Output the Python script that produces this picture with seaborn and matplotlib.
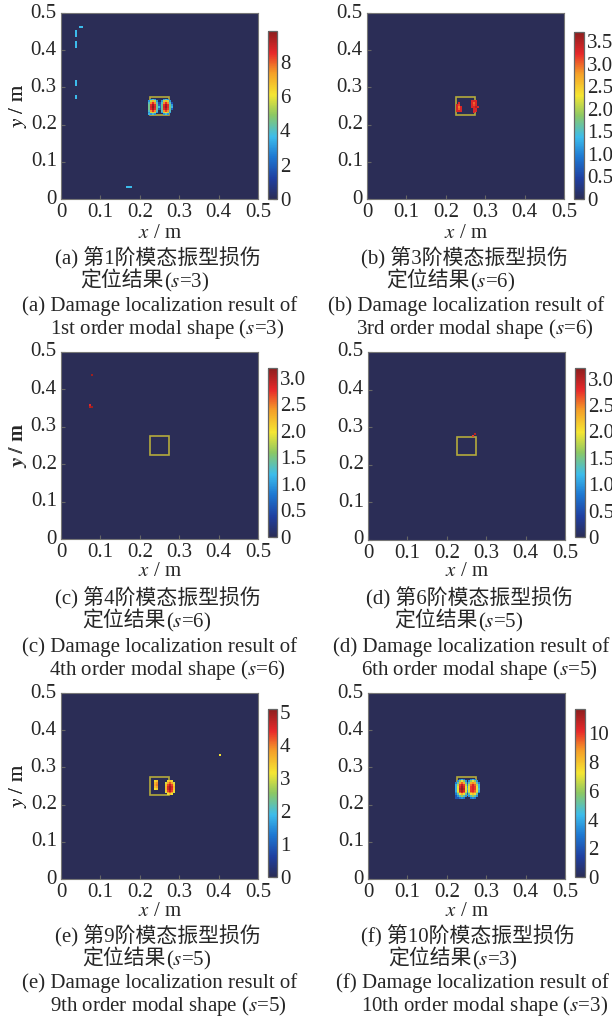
import numpy as np
import matplotlib
matplotlib.use("Agg")
import matplotlib.pyplot as plt
import seaborn as sns
from matplotlib.colors import LinearSegmentedColormap
from matplotlib.patches import Rectangle

# ---- data: damage index values on a 0.5 m x 0.5 m plate (cell = 0.005 m) ----
cell = 0.005
n_cells = 100

# (a) 1st order, s=3 : two blobs (rows listed top to bottom), lower-left origin in m
a_patch = [
    [0, 3, 4, 3, 0, 0, 0, 0, 3, 4, 3, 0, 0],
    [3, 5.5, 7, 5.5, 3, 0, 0, 3, 5.5, 7, 5.5, 3, 0],
    [4, 7.5, 8.5, 7.5, 4, 1.5, 1.5, 4, 7.5, 8.5, 7.5, 4, 1.5],
    [4.5, 8.5, 9.6, 8.5, 4.5, 2, 2, 4.5, 8.5, 9.5, 8.5, 4.5, 3],
    [4.5, 8.8, 9.8, 8.8, 4.5, 3.5, 2, 4.5, 8.8, 9.7, 8.5, 4.5, 3.5],
    [4.5, 8.5, 9.5, 8.5, 4.5, 2, 1.5, 4.5, 8.5, 9.3, 8.3, 4.5, 2],
    [4, 7.5, 8.5, 7.5, 4, 0, 0, 4, 7.5, 8.3, 7.5, 4, 0],
    [3, 5.5, 7, 5.5, 3, 0, 0, 3, 5.5, 6.5, 5.5, 3, 0],
    [3.5, 3, 4, 3, 0, 0, 0, 0, 3, 4, 3, 0, 0],
]
a_origin = (0.22, 0.225)
# strips of constant value: x0, y0, x1, y1, value
a_strips = [
    (0.035, 0.435, 0.04, 0.455, 3.6),
    (0.035, 0.405, 0.04, 0.425, 3.6),
    (0.035, 0.305, 0.04, 0.32, 3.6),
    (0.035, 0.27, 0.04, 0.28, 3.6),
    (0.045, 0.46, 0.055, 0.465, 3.6),
    (0.165, 0.03, 0.18, 0.035, 3.6),
]
a_vmax = 9.8
a_ticks = [0, 2, 4, 6, 8]

# (b) 3rd order, s=6
b_patch_left = [
    [0, 3.3, 0],
    [3.3, 3.1, 0],
    [3.3, 2.9, 3.3],
    [3.3, 3.0, 3.3],
    [3.3, 3.3, 3.3],
]
b_origin_left = (0.225, 0.235)
b_patch_right = [
    [3.3, 3.3, 3.3, 0],
    [3.3, 3.0, 3.3, 0],
    [3.3, 3.1, 3.3, 0],
    [3.3, 3.3, 3.5, 3.3],
    [0, 3.3, 3.3, 0],
    [0, 3.3, 3.3, 0],
    [0, 3.3, 0, 0],
]
b_origin_right = (0.265, 0.23)
b_vmax = 3.7
b_ticks = [0, 0.5, 1.0, 1.5, 2.0, 2.5, 3.0, 3.5]

# (c) 4th order, s=6
c_strips = [
    (0.075, 0.435, 0.08, 0.44, 3.1),
    (0.07, 0.355, 0.075, 0.36, 2.8),
    (0.075, 0.35, 0.08, 0.355, 3.1),
    (0.07, 0.35, 0.075, 0.355, 3.0),
]
c_vmax = 3.18
c_ticks = [0, 0.5, 1.0, 1.5, 2.0, 2.5, 3.0]

# (d) 6th order, s=5
d_strips = [
    (0.27, 0.28, 0.275, 0.285, 3.0),
    (0.265, 0.275, 0.27, 0.28, 2.7),
]
d_vmax = 3.2
d_ticks = [0, 0.5, 1.0, 1.5, 2.0, 2.5, 3.0]

# (e) 9th order, s=5
e_patch_left = [
    [3.3, 3.5],
    [3.6, 3.9],
    [3.7, 4.0],
    [3.5, 3.8],
    [3.2, 3.4],
]
e_origin_left = (0.235, 0.24)
e_patch_right = [
    [0, 3.3, 3.5, 3.3, 0],
    [3.0, 3.8, 4.2, 3.8, 3.0],
    [3.5, 4.3, 4.8, 4.3, 3.4],
    [3.6, 4.6, 5.0, 4.6, 3.6],
    [3.6, 4.6, 5.0, 4.5, 3.5],
    [3.4, 4.3, 4.8, 4.3, 3.3],
    [3.0, 3.8, 4.2, 3.8, 3.0],
    [0, 3.2, 3.5, 3.2, 0],
]
e_origin_right = (0.265, 0.225)
e_strips = [(0.4, 0.33, 0.405, 0.335, 3.2)]
e_vmax = 5.1
e_ticks = [0, 1, 2, 3, 4, 5]

# (f) 10th order, s=3
f_patch = [
    [0, 0, 3, 4, 3, 0, 0, 0, 3, 4, 3, 0, 0],
    [0, 3.5, 6, 7, 6, 3.5, 0, 3.5, 6, 7, 6, 3.5, 0],
    [3, 5, 8.5, 9.5, 8.5, 5, 2, 5, 8.5, 9, 8.5, 5, 3],
    [4, 6.5, 10, 11, 10, 6.5, 3, 6.5, 9.5, 10.5, 9.5, 6.5, 4],
    [4, 7, 10.5, 11.5, 10.5, 7, 3.5, 7, 10, 10.5, 10, 7, 4],
    [4, 7, 11, 11.7, 11, 7, 4, 7, 10, 10.5, 10, 7, 4.5],
    [4, 7, 10.5, 11.3, 10.5, 7, 3.5, 7, 10, 10.3, 9.5, 7, 4],
    [3.5, 6.5, 9.5, 10.5, 9.5, 6.5, 3, 6.5, 9, 9.5, 9, 6.5, 3],
    [3, 5, 7.5, 8.5, 7.5, 5, 2, 5, 7.5, 8, 7.5, 5, 0],
    [2, 3.5, 5, 6, 5, 3.5, 0, 3.5, 5, 6, 5, 3.5, 0],
    [2, 2, 3, 3.5, 3, 0, 0, 0, 3, 3.5, 3, 0, 0],
]
f_origin = (0.22, 0.215)
f_vmax = 11.7
f_ticks = [0, 2, 4, 6, 8, 10]

# damage zone (true location)
damage_box = (0.225, 0.225, 0.05, 0.05)

axis_ticks = [0, 0.1, 0.2, 0.3, 0.4, 0.5]
axis_labels = ["0", "0.1", "0.2", "0.3", "0.4", "0.5"]

letters = ["a", "b", "c", "d", "e", "f"]
orders = [1, 3, 4, 6, 9, 10]
ordinals = ["1st", "3rd", "4th", "6th", "9th", "10th"]
s_values = [3, 6, 6, 5, 5, 3]


def build_grid(patches, strips):
    grid = np.zeros((n_cells, n_cells))
    for (x0, y0), vals in patches:
        arr = np.array(vals, dtype=float)[::-1]
        i0 = int(round(x0 / cell))
        j0 = int(round(y0 / cell))
        grid[j0:j0 + arr.shape[0], i0:i0 + arr.shape[1]] = arr
    for x0, y0, x1, y1, v in strips:
        grid[int(round(y0 / cell)):int(round(y1 / cell)),
             int(round(x0 / cell)):int(round(x1 / cell))] = v
    return grid


grids = [
    build_grid([(a_origin, a_patch)], a_strips),
    build_grid([(b_origin_left, b_patch_left), (b_origin_right, b_patch_right)], []),
    build_grid([], c_strips),
    build_grid([], d_strips),
    build_grid([(e_origin_left, e_patch_left), (e_origin_right, e_patch_right)], e_strips),
    build_grid([(f_origin, f_patch)], []),
]
vmaxes = [a_vmax, b_vmax, c_vmax, d_vmax, e_vmax, f_vmax]
cbar_ticks = [a_ticks, b_ticks, c_ticks, d_ticks, e_ticks, f_ticks]

# ---- layout (pixels of the 612 x 1018 figure) ----
W, H = 612, 1018
# axes: left, right, top, bottom ; colorbar: left, right, top, bottom
axes_px = [(61, 258, 13, 199), (367, 564, 13, 199),
           (61, 258, 352, 539), (368, 565, 352, 540),
           (61, 258, 693, 879), (368, 565, 693, 879)]
cbar_px = [(268, 277, 31, 199), (574, 584, 32, 199),
           (268, 277, 368, 537), (575, 585, 368, 537),
           (268, 277, 709, 877), (575, 585, 709, 877)]
# caption line lefts: CN1, CN2, EN1, EN2
cap_left = [(55, 80, 22, 50), (361, 386, 328, 356),
            (55, 82, 22, 49), (366, 394, 333, 361),
            (55, 82, 22, 50), (361, 388, 336, 361)]
# caption line centers (y) per row: xlabel, CN1, CN2, EN1, EN2
cap_y = [(233, 258, 282, 306, 329), (572, 598, 622, 647, 670),
         (911, 936, 960, 983, 1006)]

sns.set_style("white")
plt.rcParams["font.family"] = ["Liberation Serif", "Noto Sans CJK SC"]
plt.rcParams["mathtext.fontset"] = "stix"
fs = 15

jet_muted = LinearSegmentedColormap.from_list("jet_muted", [
    (0.0, "#2B2D56"), (0.12, "#1F3FA0"), (0.25, "#1E78D2"), (0.37, "#3CBCEB"),
    (0.5, "#8CC864"), (0.62, "#F5E632"), (0.75, "#F5A028"), (0.87, "#E8282A"),
    (1.0, "#8C1E1E")])

fig = plt.figure(figsize=(W / 100, H / 100), dpi=100)
renderer = fig.canvas.get_renderer()


def frac(x, y):
    return x / W, 1 - y / H


for k in range(6):
    l, r, t, b = axes_px[k]
    ax = fig.add_axes([l / W, 1 - b / H, (r - l) / W, (b - t) / H])
    cl, cr, ct, cb = cbar_px[k]
    cax = fig.add_axes([cl / W, 1 - cb / H, (cr - cl) / W, (cb - ct) / H])
    grid = grids[k]
    ax.set_facecolor("#2B2D56")
    sns.heatmap(grid, mask=grid == 0, cmap=jet_muted, vmin=0, vmax=vmaxes[k],
                ax=ax, cbar_ax=cax, xticklabels=False, yticklabels=False)
    ax.set_xlim(0, n_cells)
    ax.set_ylim(0, n_cells)
    bx, by, bw, bh = damage_box
    ax.add_patch(Rectangle((bx / cell, by / cell), bw / cell, bh / cell,
                           fill=False, edgecolor="#B4AA3C", lw=1.2, zorder=0.5))
    pos = [v / cell for v in axis_ticks]
    ax.set_xticks(pos)
    ax.set_xticklabels(axis_labels, rotation=0, fontsize=fs)
    ax.set_yticks(pos)
    ax.set_yticklabels(axis_labels, rotation=0, fontsize=fs, va="center")
    ax.tick_params(direction="in", length=3, width=0.8, pad=3, color="#666666",
                   bottom=True, left=True, top=False, right=False)
    for sp in ax.spines.values():
        sp.set_visible(True)
        sp.set_color("#777777")
        sp.set_linewidth(0.8)
    ax.set_ylabel("$y$ / m", fontsize=fs, va="center")
    ax.yaxis.set_label_coords((18 - l) / (r - l), 0.5)
    ax.set_xlabel("$x$ / m", fontsize=fs, va="center")
    row = k // 2
    ax.xaxis.set_label_coords(0.5, (b - cap_y[row][0]) / (b - t))

    cbar = ax.collections[0].colorbar
    ticks = cbar_ticks[k]
    labels = ["0" if v == 0 else (f"{v:.1f}" if isinstance(v, float) else str(v)) for v in ticks]
    cbar.set_ticks(ticks)
    cbar.set_ticklabels(labels)
    cbar.outline.set_linewidth(0.9)
    cbar.outline.set_edgecolor("#666666")
    cax.tick_params(direction="in", length=3, width=0.8, pad=2, labelsize=fs,
                    right=True, left=False, color="#333333")

    # captions
    c1, c2, e1, e2 = cap_left[k]
    ys = cap_y[row]
    let = letters[k]
    fig.text(*frac(c1, ys[1]), f"({let}) 第{orders[k]}阶模态振型损伤",
             fontsize=fs, ha="left", va="center")
    t1 = fig.text(*frac(c2, ys[2] + 5), "定位结果", fontsize=fs, ha="left", va="baseline")
    w1 = t1.get_window_extent(renderer).width
    fig.text(*frac(c2 + w1, ys[2] + 5), f"($s$={s_values[k]})",
             fontsize=fs, ha="left", va="baseline")
    fig.text(*frac(e1, ys[3]), f"({let}) Damage localization result of",
             fontsize=fs, ha="left", va="center")
    fig.text(*frac(e2, ys[4]), f"{ordinals[k]} order modal shape ($s$={s_values[k]})",
             fontsize=fs, ha="left", va="center")

fig.savefig("out.png", dpi=100)
